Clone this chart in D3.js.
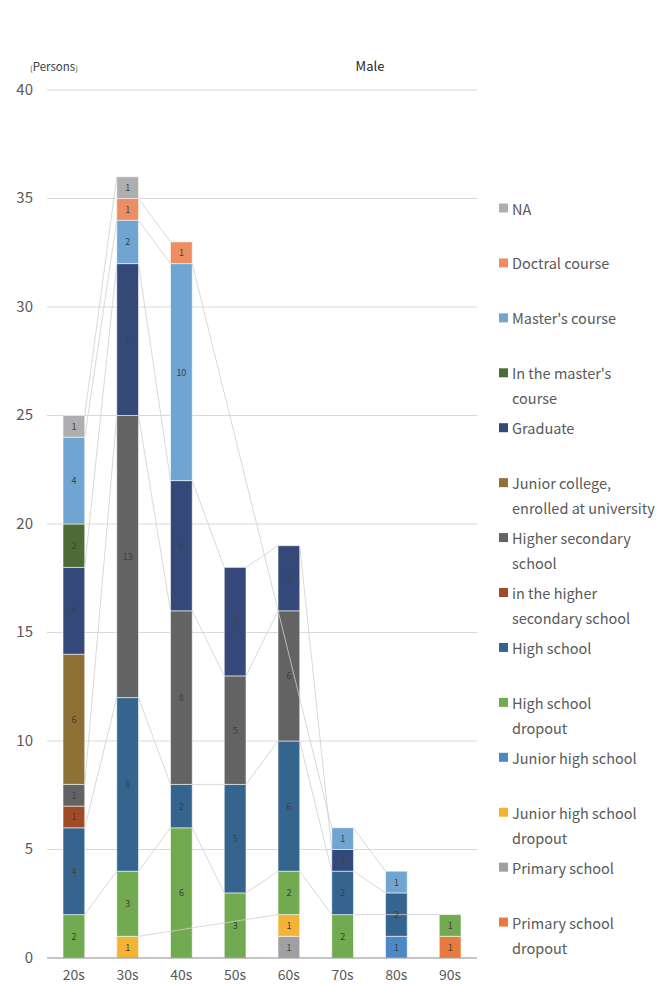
<!DOCTYPE html>
<html>
<head>
<meta charset="utf-8">
<script src="https://cdn.jsdelivr.net/npm/d3@7"></script>
<style>
  body { margin: 0; background: #fff; }
  svg text { font-family: "Noto Sans CJK JP", "Noto Sans", sans-serif; }
</style>
</head>
<body>
<svg id="chart" width="660" height="984"></svg>
<script>
// Age groups along the x axis
const ageGroups = ["20s", "30s", "40s", "50s", "60s", "70s", "80s", "90s"];

// Persons per education category and age group (null = nobody in that group)
const primaryDropout    = [null, null, null, null, null, null, null, 1];
const primarySchool     = [null, null, null, null, 1, null, null, null];
const juniorHighDropout = [null, 1, null, null, 1, null, null, null];
const juniorHigh        = [null, null, null, null, null, null, 1, null];
const highSchoolDropout = [2, 3, 6, 3, 2, 2, null, 1];
const highSchool        = [4, 8, 2, 5, 6, 2, 2, null];
const inHigherSecondary = [1, null, null, null, null, null, null, null];
const higherSecondary   = [1, 13, 8, 5, 6, null, null, null];
const juniorCollege     = [6, null, null, null, null, null, null, null];
const graduate          = [4, 7, 6, 5, 3, 1, null, null];
const inMasters         = [2, null, null, null, null, null, null, null];
const masters           = [4, 2, 10, null, null, 1, 1, null];
const doctoral          = [null, 1, 1, null, null, null, null, null];
const notAnswered       = [1, 1, null, null, null, null, null, null];

// Stack order, bottom to top
const seriesNames = [
  "Primary school dropout", "Primary school", "Junior high school dropout",
  "Junior high school", "High school dropout", "High school",
  "in the higher secondary school", "Higher secondary school",
  "Junior college, enrolled at university", "Graduate",
  "In the master's course", "Master's course", "Doctral course", "NA"
];
const seriesValues = [
  primaryDropout, primarySchool, juniorHighDropout, juniorHigh,
  highSchoolDropout, highSchool, inHigherSecondary, higherSecondary,
  juniorCollege, graduate, inMasters, masters, doctoral, notAnswered
];
const seriesColors = [
  "#E97A3F", "#A0A0A4", "#F5B335", "#4C88C7", "#71AA50", "#35648F",
  "#A04A28", "#636363", "#8F7136", "#34497A", "#4D6B36", "#70A5D3",
  "#EC8E61", "#AEAEAE"
];
// Legend wording, wrapped as shown in the legend column
const legendLines = [
  ["Primary school", "dropout"], ["Primary school"], ["Junior high school", "dropout"],
  ["Junior high school"], ["High school", "dropout"], ["High school"],
  ["in the higher", "secondary school"], ["Higher secondary", "school"],
  ["Junior college,", "enrolled at university"], ["Graduate"],
  ["In the master's", "course"], ["Master's course"], ["Doctral course"], ["NA"]
];

const yTicks = [0, 5, 10, 15, 20, 25, 30, 35, 40];

const svg = d3.select("#chart");
const plot = { left: 47, right: 477, top: 90, bottom: 958 };

const x = d3.scaleBand().domain(ageGroups).range([plot.left, plot.right])
  .paddingInner(0.596).paddingOuter(0.298);
const y = d3.scaleLinear().domain([0, 40]).range([plot.bottom, plot.top]);
const bw = x.bandwidth();

// Gridlines
svg.append("g").selectAll("line").data(yTicks.filter(d => d > 0)).join("line")
  .attr("x1", plot.left).attr("x2", plot.right)
  .attr("y1", d => y(d)).attr("y2", d => y(d))
  .attr("stroke", "#d9d9d9").attr("stroke-width", 1);

// Y tick labels
svg.append("g").selectAll("text").data(yTicks).join("text")
  .attr("x", 33).attr("y", d => y(d) - 2)
  .attr("text-anchor", "end").attr("dominant-baseline", "central")
  .attr("font-size", 15).attr("fill", "#595959")
  .text(d => d);

// Stacked segments
const segments = [];
const tops = seriesValues.map(() => ageGroups.map(() => null));
ageGroups.forEach((g, gi) => {
  let cum = 0;
  seriesValues.forEach((vals, si) => {
    const v = vals[gi];
    if (v == null) return;
    segments.push({ group: g, si, v, y0: cum, y1: cum + v });
    cum += v;
    tops[si][gi] = cum;
  });
});

svg.append("g").selectAll("rect").data(segments).join("rect")
  .attr("x", d => x(d.group))
  .attr("width", bw)
  .attr("y", d => y(d.y1))
  .attr("height", d => y(d.y0) - y(d.y1))
  .attr("fill", d => seriesColors[d.si])
  .attr("stroke", "rgba(255,255,255,0.55)")
  .attr("stroke-width", 1);

// Series lines: join each category's top between neighbouring bars that contain it
const seriesLines = [];
tops.forEach((row, si) => {
  const idx = row.map((t, i) => t == null ? -1 : i).filter(i => i >= 0);
  for (let k = 0; k < idx.length - 1; k++) {
    const a = idx[k], b = idx[k + 1];
    seriesLines.push({
      x1: x(ageGroups[a]) + bw, y1: y(row[a]),
      x2: x(ageGroups[b]), y2: y(row[b])
    });
  }
});
svg.append("g").selectAll("line").data(seriesLines).join("line")
  .attr("x1", d => d.x1).attr("y1", d => d.y1)
  .attr("x2", d => d.x2).attr("y2", d => d.y2)
  .attr("stroke", "#cfcfcf").attr("stroke-width", 0.8);

// Data labels
svg.append("g").selectAll("text").data(segments).join("text")
  .attr("x", d => x(d.group) + bw / 2)
  .attr("y", d => y((d.y0 + d.y1) / 2))
  .attr("text-anchor", "middle").attr("dominant-baseline", "central")
  .attr("font-size", 9).attr("fill", "#404040")
  .text(d => d.v);

// Category axis
svg.append("line")
  .attr("x1", plot.left).attr("x2", plot.right)
  .attr("y1", y(0)).attr("y2", y(0))
  .attr("stroke", "#8c8c8c").attr("stroke-width", 1);

svg.append("g").selectAll("text").data(ageGroups).join("text")
  .attr("x", d => x(d) + bw / 2).attr("y", 974)
  .attr("text-anchor", "middle").attr("dominant-baseline", "central")
  .attr("font-size", 14).attr("fill", "#595959")
  .text(d => d);

// Unit label and title
const unit = svg.append("text").attr("x", 30).attr("y", 71)
  .attr("fill", "#404040").attr("font-size", 11.5);
unit.append("tspan").attr("font-size", 8).text("(");
unit.append("tspan").text("Persons");
unit.append("tspan").attr("font-size", 8).text(")");

svg.append("text").attr("x", 370).attr("y", 71)
  .attr("text-anchor", "middle").attr("font-size", 13).attr("fill", "#262626")
  .text("Male");

// Legend, top entry = top of stack
const legendOrder = d3.range(seriesNames.length).reverse();
const legend = svg.append("g").selectAll("g").data(legendOrder).join("g")
  .attr("transform", (si, i) => `translate(499, ${208 + i * 54.93})`);
legend.append("rect")
  .attr("x", 0).attr("y", -4.5).attr("width", 9).attr("height", 9)
  .attr("fill", si => seriesColors[si]);
legend.each(function (si) {
  const t = d3.select(this).append("text")
    .attr("x", 13).attr("y", 0)
    .attr("font-size", 14.5).attr("fill", "#595959");
  legendLines[si].forEach((line, li) => {
    t.append("tspan").attr("x", 13).attr("y", li * 25)
      .attr("dominant-baseline", "central").text(line);
  });
});
</script>
</body>
</html>
